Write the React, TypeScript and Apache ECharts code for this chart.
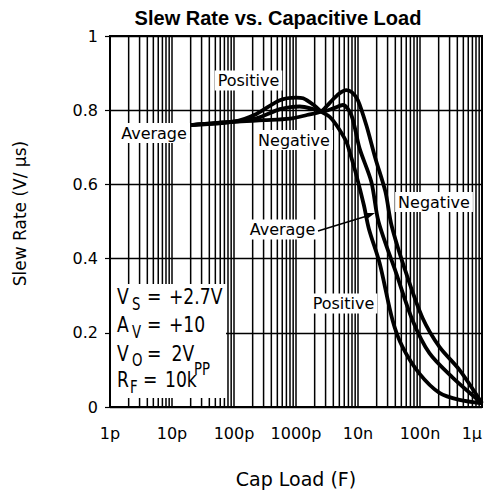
import React, { useEffect, useRef } from 'react';
import * as echarts from 'echarts';

// Tick labels for the log x axis (values in pF)
const xTickLabels = ['1p', '10p', '100p', '1000p', '10n', '100n', '1μ'];
const yTicks = [0, 0.2, 0.4, 0.6, 0.8, 1];

// Capacitive load in pF, slew rate in V/µs
const positiveX = [20, 100, 230, 550, 1000, 1300, 2000, 2570, 3500, 4480, 6490, 7330, 9400, 12400, 15000, 22300, 36100, 52200, 98000, 206000, 433000, 1000000];
const positiveY = [0.76, 0.769, 0.79, 0.827, 0.834, 0.832, 0.812, 0.796, 0.782, 0.76, 0.715, 0.688, 0.625, 0.545, 0.48, 0.388, 0.234, 0.162, 0.09, 0.038, 0.019, 0.01];

const averageX = [20, 100, 230, 550, 800, 1150, 2000, 2570, 4000, 5700, 7800, 10600, 16400, 21400, 41400, 75700, 142000, 333000, 1000000];
const averageY = [0.76, 0.769, 0.778, 0.803, 0.808, 0.81, 0.802, 0.796, 0.805, 0.814, 0.787, 0.697, 0.607, 0.5, 0.36, 0.234, 0.145, 0.08, 0.01];

const negativeX = [20, 100, 300, 800, 1500, 2570, 3500, 5000, 6490, 8000, 9950, 13600, 19100, 27700, 34700, 60000, 110000, 206000, 433000, 1000000];
const negativeY = [0.76, 0.769, 0.773, 0.777, 0.787, 0.797, 0.82, 0.845, 0.854, 0.848, 0.827, 0.76, 0.67, 0.58, 0.49, 0.36, 0.24, 0.162, 0.1, 0.01];

// log grid: lines at 2..10 x each decade start
const decadeStarts = [1, 10, 100, 1000, 10000, 100000];
const gridMultipliers = [2, 3, 4, 5, 6, 7, 8, 9, 10];

const FONT = 'DejaVu Sans';

function pairs(xs: number[], ys: number[]) {
  return xs.map((x, i) => [x, ys[i]]);
}

function curve(name: string, xs: number[], ys: number[]) {
  return {
    name,
    type: 'line',
    data: pairs(xs, ys),
    showSymbol: false,
    smooth: 0.3,
    lineStyle: { color: '#000', width: 3.8 },
    z: 5,
  };
}

function label(text: string, cx: number, cy: number) {
  return {
    type: 'text',
    z: 100,
    x: cx,
    y: cy,
    style: {
      text,
      font: `16px "${FONT}"`,
      fill: '#000',
      align: 'center',
      verticalAlign: 'middle',
      backgroundColor: '#fff',
      padding: [2, 3, 2, 3],
    },
  };
}

function boxText(text: string, left: number, cy: number, size: number) {
  return {
    type: 'text',
    z: 101,
    x: left,
    y: cy,
    scaleX: 0.78,
    style: {
      text,
      font: `${size}px "${FONT}"`,
      fill: '#000',
      align: 'left',
      verticalAlign: 'middle',
    },
  };
}

export default function App() {
  const ref = useRef<HTMLDivElement>(null);
  useEffect(() => {
    const chart = echarts.init(ref.current!, null, { renderer: 'svg' });
    const vLines = decadeStarts
      .flatMap((d) => gridMultipliers.map((m) => d * m))
      .filter((v) => v < 1000000);
    const main = 22;
    const sub = 17;
    chart.setOption({
      animation: false,
      backgroundColor: '#fff',
      textStyle: { fontFamily: FONT },
      title: {
        text: 'Slew Rate vs. Capacitive Load',
        left: 273,
        top: 3,
        textAlign: 'center',
        textStyle: { fontFamily: 'Liberation Sans', fontWeight: 'bold', fontSize: 20, color: '#000' },
      },
      grid: {
        left: 110,
        right: 13,
        top: 36,
        bottom: 88,
        show: true,
        borderColor: '#000',
        borderWidth: 2,
        backgroundColor: 'transparent',
      },
      xAxis: {
        type: 'log',
        logBase: 10,
        min: 1,
        max: 1000000,
        name: 'Cap Load (F)',
        nameLocation: 'middle',
        nameGap: 62,
        nameTextStyle: { fontFamily: FONT, fontSize: 19, color: '#000' },
        axisLine: { lineStyle: { color: '#000', width: 2 } },
        axisTick: { show: false },
        splitLine: { show: false },
        axisLabel: {
          color: '#000',
          fontFamily: FONT,
          fontSize: 16,
          margin: 18,
          alignMaxLabel: 'right',
          formatter: (v: number) => xTickLabels[Math.round(Math.log10(v))] ?? '',
        },
      },
      yAxis: {
        type: 'value',
        min: 0,
        max: 1,
        interval: 0.2,
        name: 'Slew Rate (V/ μs)',
        nameLocation: 'middle',
        nameGap: 82,
        nameTextStyle: { fontFamily: FONT, fontSize: 17, color: '#000', padding: [0, 0, 0, 16] },
        axisLine: { show: true, lineStyle: { color: '#000', width: 2 } },
        axisTick: { show: true, inside: false, length: 5, lineStyle: { color: '#000', width: 1.2 } },
        splitLine: { show: true, lineStyle: { color: '#000', width: 1.3 } },
        axisLabel: {
          color: '#000',
          fontFamily: FONT,
          fontSize: 16,
          margin: 12,
          formatter: (v: number) => {
            const t = yTicks.find((k) => Math.abs(k - v) < 1e-9);
            return t === undefined ? '' : String(t);
          },
        },
      },
      series: [
        {
          type: 'custom',
          silent: true,
          z: 1,
          data: vLines.map((v) => [v, 0]),
          encode: { x: 0, y: 1 },
          renderItem: (_params: any, api: any) => {
            const x = api.value(0);
            const p0 = api.coord([x, 0]);
            const p1 = api.coord([x, 1]);
            return {
              type: 'line',
              shape: { x1: p0[0], y1: p0[1], x2: p1[0], y2: p1[1] },
              style: { stroke: '#000', lineWidth: 1.5 },
            };
          },
        },
        curve('Positive', positiveX, positiveY),
        curve('Average', averageX, averageY),
        curve('Negative', negativeX, negativeY),
      ],
      graphic: [
        label('Positive', 248.5, 80.5),
        label('Average', 154, 133),
        label('Negative', 294, 140),
        label('Average', 282.5, 229.5),
        label('Negative', 434, 202),
        label('Positive', 343.5, 303.5),
        {
          type: 'line',
          z: 100,
          shape: { x1: 318, y1: 231, x2: 367, y2: 216 },
          style: { stroke: '#000', lineWidth: 1.4 },
        },
        {
          type: 'polygon',
          z: 100,
          shape: { points: [[375, 213], [366.5, 219.5], [364.5, 213]] },
          style: { fill: '#000' },
        },
        {
          type: 'rect',
          z: 99,
          shape: { x: 111, y: 284, width: 115, height: 114 },
          style: { fill: '#fff' },
        },
        // V_S = +2.7V
        boxText('V', 117, 296.5, main),
        boxText('S', 132, 304, sub),
        boxText('=', 147, 296.5, main),
        boxText('+2.7V', 169, 296.5, main),
        // A_V = +10
        boxText('A', 117, 325, main),
        boxText('V', 132, 332.5, sub),
        boxText('=', 147, 325, main),
        boxText('+10', 169, 325, main),
        // V_O = 2V_PP
        boxText('V', 117, 353.5, main),
        boxText('O', 132, 360, sub),
        boxText('=', 147, 353.5, main),
        boxText('2V', 171.5, 353.5, main),
        boxText('PP', 194, 369, sub),
        // R_F = 10k
        boxText('R', 117, 380, main),
        boxText('F', 130, 387.5, sub),
        boxText('=', 143, 380, main),
        boxText('10k', 165, 380, main),
      ],
    });
    return () => chart.dispose();
  }, []);
  return (
    <div
      ref={ref}
      style={{ position: 'fixed', left: 0, top: 0, width: 495, height: 495, background: '#fff' }}
    />
  );
}
